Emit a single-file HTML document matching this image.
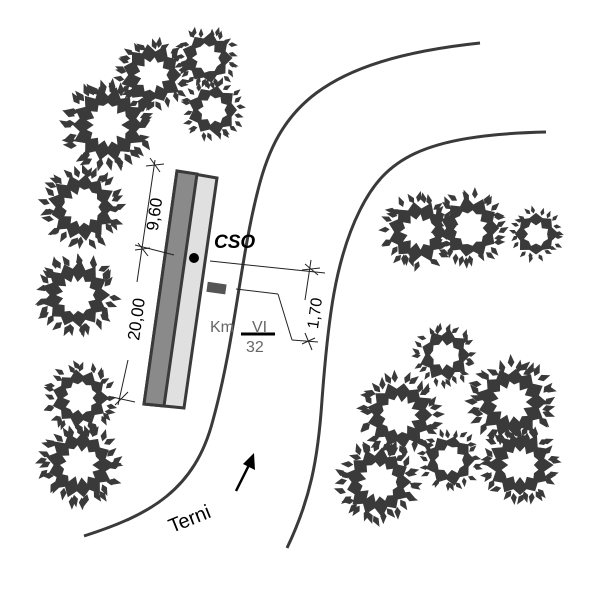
<!DOCTYPE html>
<html><head><meta charset="utf-8"><style>
html,body{margin:0;padding:0;background:#fff;}
svg{display:block}
text{font-family:"Liberation Sans",sans-serif;}
</style></head><body>
<svg id="s" width="600" height="600" viewBox="0 0 600 600" xmlns="http://www.w3.org/2000/svg">
<rect width="600" height="600" fill="#fff"/>
<g id="trees"></g>
<!-- roads -->
<path d="M84,536 C150,515 195,490 213,420 C235,340 240,260 258,190 C278,110 320,60 480,43" fill="none" stroke="#3a3a3a" stroke-width="3"/>
<path d="M287,548 C310,500 318,460 322,400 C328,320 335,260 360,210 C385,160 420,135 546,132" fill="none" stroke="#3a3a3a" stroke-width="3"/>
<!-- building -->
<polygon points="177,171 217,178 184,408 144,404" fill="#e0e0e0" stroke="#3a3a3a" stroke-width="3"/>
<polygon points="177,171 197,174 164,406 144,404" fill="#8a8a8a" stroke="#3a3a3a" stroke-width="3"/>
<circle cx="194" cy="258" r="5" fill="#000"/>
<text x="214" y="248" font-size="19" font-weight="bold" font-style="italic">CSO</text>
<g stroke="#222" stroke-width="1" fill="none">
<line x1="135" y1="245" x2="174" y2="255"/>
<line x1="155" y1="160" x2="137" y2="282"/>
<line x1="146" y1="166" x2="164" y2="164"/><line x1="150" y1="158" x2="160" y2="172"/>
<line x1="135" y1="250" x2="150" y2="248"/><line x1="138" y1="243" x2="148" y2="256"/>
<line x1="128" y1="360" x2="118" y2="405"/>
<line x1="112" y1="397" x2="135" y2="402"/><line x1="115" y1="405" x2="128" y2="392"/>
<line x1="210" y1="261" x2="325" y2="273"/>
<line x1="311" y1="260" x2="305" y2="300"/><line x1="302" y1="270" x2="320" y2="268"/><line x1="305" y1="264" x2="318" y2="275"/>
<line x1="236" y1="289" x2="278" y2="294"/><line x1="278" y1="294" x2="292" y2="340"/><line x1="292" y1="340" x2="318" y2="342"/>
<line x1="305" y1="333" x2="312" y2="350"/><line x1="302" y1="344" x2="315" y2="338"/>
</g>
<rect x="207" y="283" width="19" height="10" fill="#555" transform="rotate(8 216 288)"/>
<text transform="translate(160,215) rotate(-82)" font-size="17" text-anchor="middle">9,60</text>
<text transform="translate(142,320) rotate(-82)" font-size="17" text-anchor="middle">20,00</text>
<text transform="translate(320,314) rotate(-82)" font-size="16" text-anchor="middle">1,70</text>
<text x="210" y="332" font-size="16" fill="#666">Km</text>
<text x="252" y="332" font-size="16" fill="#666">VI</text>
<line x1="241" y1="334" x2="275" y2="334" stroke="#000" stroke-width="3"/>
<text x="246" y="352" font-size="16" fill="#666">32</text>
<text transform="translate(192,525) rotate(-22)" font-size="20" text-anchor="middle">Terni</text>
<line x1="236" y1="491" x2="251" y2="461" stroke="#000" stroke-width="2.5"/>
<polygon points="254,453 255,470 243,464" fill="#000"/>
</svg>
<script>
var T=[[108,125,44],[152,75,36],[207,58,30],[213,110,30],[82,207,40],[76,295,40],[80,398,34],[80,465,40],
[418,232,36],[470,228,36],[536,234,26],
[445,355,30],[400,415,40],[512,402,42],[450,460,30],[378,482,40],[520,465,38]];
var g=document.getElementById('trees'),h='';
function rnd(i){var x=Math.sin(i*12.9898)*43758.5453;return x-Math.floor(x);}
function leaf(x,y,a,L,W){var c=Math.cos(a),s=Math.sin(a);
 return 'M'+(x+c*L).toFixed(1)+','+(y+s*L).toFixed(1)+'L'+(x-s*W).toFixed(1)+','+(y+c*W).toFixed(1)+'L'+(x-c*L*0.6).toFixed(1)+','+(y-s*L*0.6).toFixed(1)+'L'+(x+s*W).toFixed(1)+','+(y-c*W).toFixed(1)+'Z';}
T.forEach(function(t,k){
 var cx=t[0],cy=t[1],r=t[2],n=Math.round(r/3.2),o='',inn='',lv='';
 for(var i=0;i<n;i++){
  var a=i/n*Math.PI*2,b=(i+0.5)/n*Math.PI*2;
  var ro=r*(0.78+0.12*rnd(k*100+i)),rv=r*0.66;
  o+=(i?'L':'M')+(cx+ro*Math.cos(a)).toFixed(1)+','+(cy+ro*Math.sin(a)).toFixed(1)+'L'+(cx+rv*Math.cos(b)).toFixed(1)+','+(cy+rv*Math.sin(b)).toFixed(1);
  var ri=r*(0.3+0.15*rnd(k*77+i)),ri2=r*0.5;
  inn+=(i?'L':'M')+(cx+ri*Math.cos(a)).toFixed(1)+','+(cy+ri*Math.sin(a)).toFixed(1)+'L'+(cx+ri2*Math.cos(b)).toFixed(1)+','+(cy+ri2*Math.sin(b)).toFixed(1);
 }
 var m=Math.round(r*0.8);
 for(var j=0;j<m;j++){
  var a2=j/m*Math.PI*2+rnd(k*31+j)*0.3,rr=r*(0.8+0.15*rnd(k*53+j));
  lv+=leaf(cx+rr*Math.cos(a2),cy+rr*Math.sin(a2),a2+(rnd(k*7+j)-0.5)*1.2,r*0.2,r*0.08);
 }
 h+='<path d="'+o+'Z'+inn+'Z" fill="#3a3a3a" fill-rule="evenodd"/><path d="'+lv+'" fill="#3a3a3a"/>';
});
g.innerHTML=h;
</script>
</body></html>
